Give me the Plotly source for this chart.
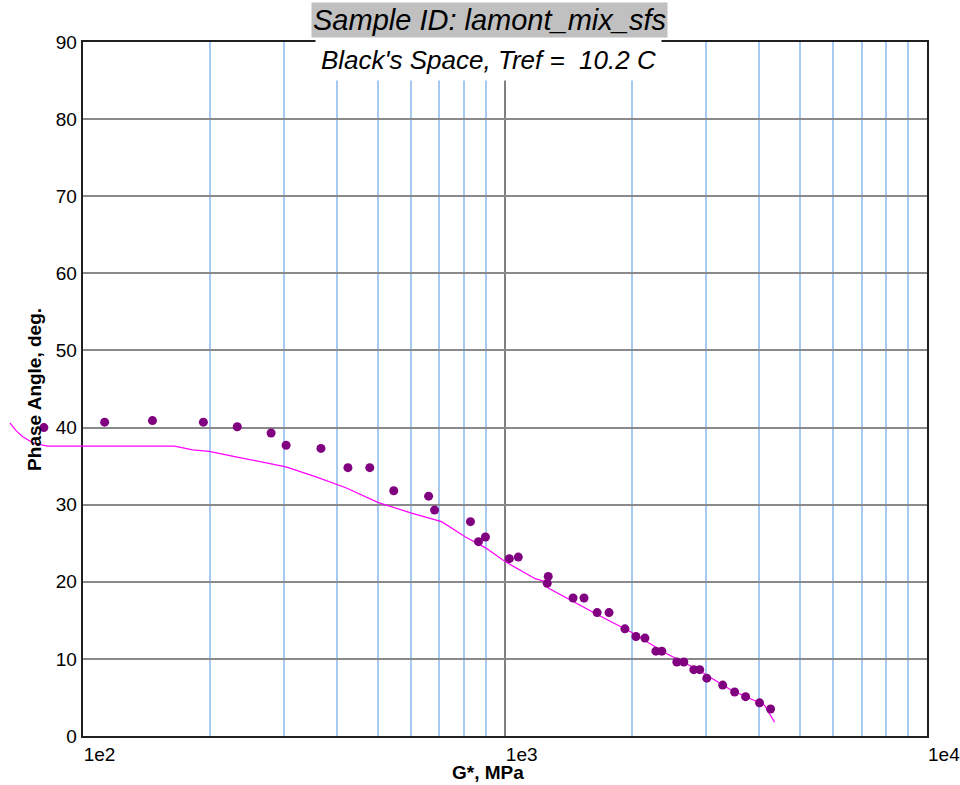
import plotly.graph_objects as go

# Measured dynamic shear modulus |G*| (MPa) and phase angle (deg)
g_star_meas = [80.9, 112.7, 146.3, 193.1, 232.3, 279.4, 303.2, 366.7, 424.8, 478.6,
               545.5, 659.7, 681.5, 828.9, 865.8, 899.4, 1024.7, 1076.0, 1266.9, 1260.0,
               1450.6, 1540.0, 1654.0, 1765.0, 1925.0, 2044.0, 2147.0, 2279.0, 2354.0, 2555.0,
               2654.0, 2803.0, 2895.0, 3008.0, 3281.0, 3502.0, 3718.0, 4012.0, 4260.0]
phase_meas = [40.0, 40.7, 40.9, 40.7, 40.1, 39.3, 37.7, 37.3, 34.8, 34.8,
              31.8, 31.1, 29.3, 27.8, 25.2, 25.8, 23.0, 23.2, 20.7, 19.8,
              17.9, 17.9, 16.0, 16.0, 13.9, 12.9, 12.7, 11.0, 11.0, 9.6,
              9.6, 8.6, 8.6, 7.5, 6.6, 5.7, 5.1, 4.3, 3.5]

# Master-curve model in Black space
g_star_fit = [67.2, 69.5, 72.1, 76.3, 82.6, 120.0, 164.9, 182.0, 199.4, 226.0,
              303.0, 357.0, 420.0, 500.0, 601.0, 708.0, 748.0, 807.0, 900.0, 1003.0,
              1180.0, 1246.0, 1267.0, 1337.0, 1663.0, 1990.0, 2394.0, 2865.0, 3427.0, 4122.0,
              4353.0]
phase_fit = [40.6, 39.6, 38.8, 38.0, 37.6, 37.6, 37.6, 37.1, 36.9, 36.3,
             34.9, 33.6, 32.2, 30.3, 28.9, 27.8, 27.0, 25.8, 24.4, 22.6,
             20.4, 20.0, 19.2, 18.5, 15.7, 13.5, 10.8, 8.6, 6.0, 4.0,
             1.8]

x_ticks = [100, 1000, 10000]
x_tick_text = ["1e2", "1e3", "1e4"]
x_minor = [m * 10 ** e for e in (2, 3) for m in range(2, 10)]
y_ticks = list(range(0, 91, 10))

title_text = "Sample ID: lamont_mix_sfs"
subtitle_text = "Black's Space, Tref = \u00a010.2 C"
x_title = "G*, MPa"
y_title = "Phase Angle, deg."

W, H = 960, 785
M_R, M_T, M_B = 30, 42, 49
AREA_W = W - M_R
PLOT_LEFT = 83
LOG_MIN, LOG_MAX = 2.0, 4.0
dom0 = PLOT_LEFT / AREA_W
# overflow axis: same log scale, extended to the left page edge
ext_min = LOG_MIN - (LOG_MAX - LOG_MIN) * dom0 / (1 - dom0)

tick_font = dict(family="Liberation Sans, Arial", size=19, color="#000000")

fig = go.Figure()

# frame subplot (grid + axes)
fig.add_trace(go.Scatter(x=[None], y=[None], mode="markers", xaxis="x", yaxis="y",
                         hoverinfo="skip", showlegend=False))

fig.add_trace(go.Scatter(
    x=g_star_fit, y=phase_fit, mode="lines",
    line=dict(color="#ff00ff", width=1.2),
    xaxis="x2", yaxis="y2", hoverinfo="skip", showlegend=False,
))
fig.add_trace(go.Scatter(
    x=g_star_meas, y=phase_meas, mode="markers",
    marker=dict(color="#800080", size=9),
    xaxis="x2", yaxis="y2", showlegend=False,
))

fig.update_layout(
    width=W, height=H,
    margin=dict(l=0, r=M_R, t=M_T, b=M_B),
    paper_bgcolor="white", plot_bgcolor="rgba(0,0,0,0)",
    showlegend=False,
    xaxis=dict(
        type="log", range=[LOG_MIN, LOG_MAX], domain=[dom0, 1], anchor="y",
        tickvals=x_ticks, ticktext=x_tick_text, ticklabelposition="outside right",
        ticklabeloverflow="allow", ticklabelstandoff=0,
        ticks="", tickfont=tick_font,
        showgrid=True, gridcolor="#808080", gridwidth=1.5,
        minor=dict(tickvals=x_minor, showgrid=True, gridcolor="#a6caf0", gridwidth=1.5, ticks=""),
        showline=True, linecolor="#202020", linewidth=2, mirror=True,
        zeroline=False,
    ),
    yaxis=dict(
        range=[0, 90], tickvals=y_ticks, ticks="", tickfont=tick_font, anchor="x",
        ticklabelstandoff=0,
        showgrid=True, gridcolor="#8a8a8a", gridwidth=1.5,
        showline=True, linecolor="#202020", linewidth=2, mirror=True,
        zeroline=False,
    ),
    xaxis2=dict(type="log", range=[ext_min, LOG_MAX], domain=[0, 1], anchor="y2", visible=False),
    yaxis2=dict(range=[0, 90], domain=[0, 1], anchor="x2", visible=False),
)

fig.add_annotation(
    text=title_text, xref="paper", yref="paper", x=491 / AREA_W, y=1.0, yshift=22,
    xanchor="center", yanchor="middle", showarrow=False,
    font=dict(family="Liberation Sans, Arial", size=29, color="#000000", style="italic"),
    bgcolor="#c0c0c0", borderpad=1,
)
fig.add_annotation(
    text=subtitle_text, xref="paper", yref="paper", x=490 / AREA_W, y=1.0, yshift=-18,
    xanchor="center", yanchor="middle", showarrow=False,
    font=dict(family="Liberation Sans, Arial", size=26, color="#000000", style="italic"),
    bgcolor="white", borderpad=5,
)
fig.add_annotation(
    text="<b>" + x_title + "</b>", xref="paper", yref="paper", x=490 / AREA_W, y=0,
    yshift=-36, xanchor="center", yanchor="middle", showarrow=False,
    font=dict(family="Liberation Sans, Arial", size=19, color="#000000"),
)
fig.add_annotation(
    text="<b>" + y_title + "</b>", xref="paper", yref="paper", x=34 / AREA_W, y=0.5,
    xanchor="center", yanchor="middle", textangle=-90, showarrow=False,
    font=dict(family="Liberation Sans, Arial", size=19, color="#000000"),
)

fig.write_html("out.html")
